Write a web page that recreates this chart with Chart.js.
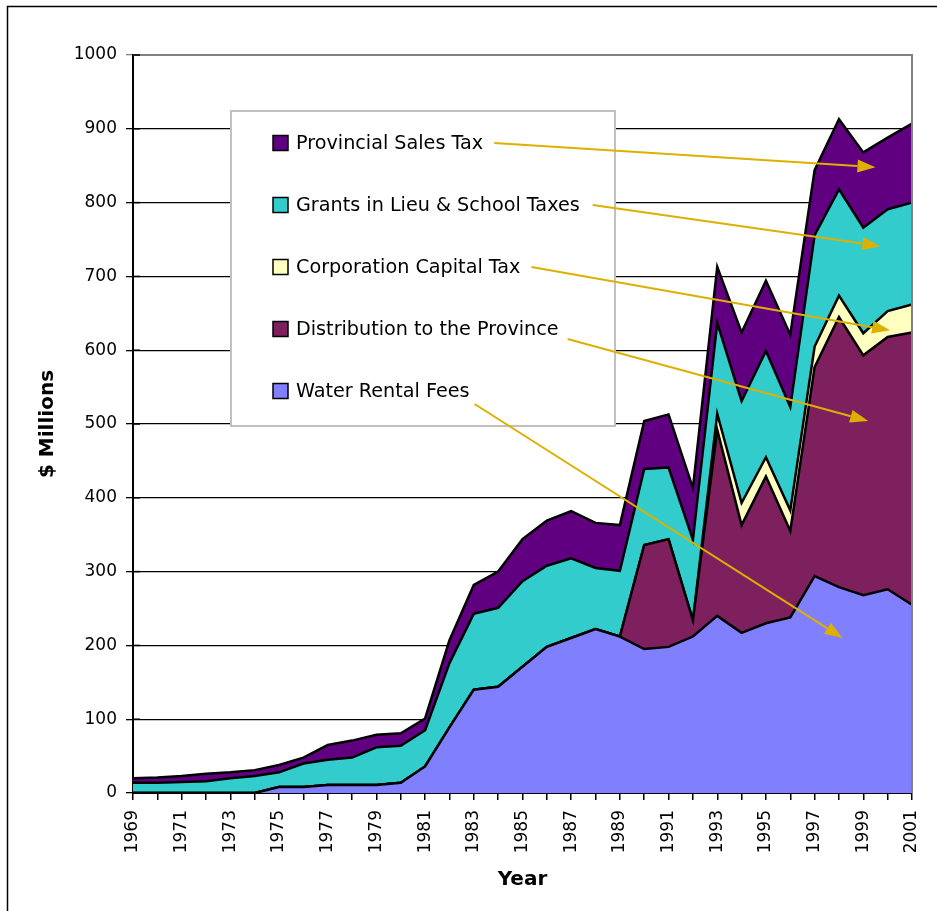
<!DOCTYPE html>
<html><head><meta charset="utf-8">
<script src="https://cdn.jsdelivr.net/npm/chart.js@4.4.0/dist/chart.umd.min.js"></script>
<style>html,body{margin:0;padding:0;background:#fff}canvas{display:block}</style>
</head><body>
<canvas id="c" width="937" height="911"></canvas>
<script>
// ---- DATA ----
const years = ['1969','1970','1971','1972','1973','1974','1975','1976','1977','1978','1979','1980',
  '1981','1982','1983','1984','1985','1986','1987','1988','1989','1990','1991','1992','1993',
  '1994','1995','1996','1997','1998','1999','2000','2001'];
const waterRental   = [0,0,0,0,0,0,8,8,11,11,11,14,36,89,140,144,171,198,210,222,212,195,198,212,240,217,230,238,294,279,268,276,255];
const distribution  = [0,0,0,0,0,0,0,0,0,0,0,0,0,0,0,0,0,0,0,0,0,141,146,22,252,146,199,117,283,366,325,342,369];
const corpCapital   = [0,0,0,0,0,0,0,0,0,0,0,0,0,0,0,0,0,0,0,0,0,0,0,0,22,30,26,28,28,29,30,35,38];
const grantsInLieu  = [14,14,15,16,20,23,20,32,34,37,51,50,49,87,103,107,116,110,108,83,89,103,97,109,123,138,144,140,151,144,143,138,138];
const salesTax      = [6,7,8,10,8,8,10,8,20,23,17,17,16,31,39,49,57,61,64,61,62,65,72,70,76,93,95,98,88,95,102,97,107];
const seriesNames   = ['Water Rental Fees','Distribution to the Province','Corporation Capital Tax','Grants in Lieu & School Taxes','Provincial Sales Tax'];
const yTicks        = [0,100,200,300,400,500,600,700,800,900,1000];
// arrow targets (category index, $ millions) for each series, same order as seriesNames
const arrowTargetX  = [29.15, 30.2, 31.1, 30.7, 30.5];
const arrowTargetY  = [210, 504, 627, 741, 848];

const colors = ['#8080FF','#7E1F5E','#FFFFC0','#33CCCC','#600080'];
const FONT = "'DejaVu Sans', Verdana, sans-serif";

const seriesData = [waterRental, distribution, corpCapital, grantsInLieu, salesTax];
const datasets = seriesData.map((d, i) => ({
  label: seriesNames[i],
  data: d,
  backgroundColor: colors[i],
  borderColor: '#000',
  borderWidth: 2.5,
  fill: i === 0 ? 'origin' : '-1',
  pointRadius: 0,
  tension: 0
}));

const overlay = {
  id: 'overlay',
  afterDraw(chart) {
    const ctx = chart.ctx, ca = chart.chartArea;
    const xs = chart.scales.x, ys = chart.scales.y;
    ctx.save();
    // outer frame (left & top visible)
    ctx.strokeStyle = '#000'; ctx.lineWidth = 1.5;
    ctx.beginPath(); ctx.moveTo(7.5, 911); ctx.lineTo(7.5, 6.5); ctx.lineTo(937, 6.5); ctx.stroke();
    // plot border top/right gray
    ctx.strokeStyle = '#808080'; ctx.lineWidth = 2;
    ctx.beginPath(); ctx.moveTo(ca.left, ca.top); ctx.lineTo(ca.right, ca.top); ctx.lineTo(ca.right, ca.bottom); ctx.stroke();
    // inner y ticks
    ctx.strokeStyle = '#000'; ctx.lineWidth = 1.5;
    yTicks.forEach(v => {
      const y = ys.getPixelForValue(v);
      ctx.beginPath(); ctx.moveTo(ca.left, y); ctx.lineTo(ca.left + 7, y); ctx.stroke();
    });
    // legend box
    const bx = ca.left + 98, by = ca.top + 56, bw = 384, bh = 315;
    ctx.fillStyle = '#fff'; ctx.fillRect(bx, by, bw, bh);
    ctx.strokeStyle = '#c0c0c0'; ctx.lineWidth = 2; ctx.strokeRect(bx, by, bw, bh);
    ctx.font = '19.2px ' + FONT; ctx.textBaseline = 'middle'; ctx.textAlign = 'left';
    const starts = [];
    const order = [4,3,2,1,0];
    const dy = [0,0,0,10,13];
    const gap = [11,13,11,9,5];
    order.forEach((si, row) => {
      const cy = by + 32 + row * 62;
      ctx.fillStyle = colors[si];
      ctx.fillRect(bx + 42, cy - 7.5, 15, 15);
      ctx.strokeStyle = '#000'; ctx.lineWidth = 1.5;
      ctx.strokeRect(bx + 42, cy - 7.5, 15, 15);
      ctx.fillStyle = '#000';
      ctx.fillText(seriesNames[si], bx + 65, cy + 1);
      const w = ctx.measureText(seriesNames[si]).width;
      starts[si] = [bx + 65 + w + gap[row], cy + dy[row]];
    });
    // arrows
    const ac = '#DDB000';
    ctx.strokeStyle = ac; ctx.fillStyle = ac; ctx.lineWidth = 2;
    for (let si = 0; si < 5; si++) {
      const [x0, y0] = starts[si];
      const x1 = xs.getPixelForValue(arrowTargetX[si]);
      const y1 = ys.getPixelForValue(arrowTargetY[si]);
      const ang = Math.atan2(y1 - y0, x1 - x0);
      const hl = 18, hw = 6.5;
      const bxp = x1 - hl * Math.cos(ang), byp = y1 - hl * Math.sin(ang);
      ctx.beginPath(); ctx.moveTo(x0, y0); ctx.lineTo(bxp, byp); ctx.stroke();
      ctx.beginPath();
      ctx.moveTo(x1, y1);
      ctx.lineTo(bxp + hw * Math.sin(ang), byp - hw * Math.cos(ang));
      ctx.lineTo(bxp - hw * Math.sin(ang), byp + hw * Math.cos(ang));
      ctx.closePath(); ctx.fill();
    }
    ctx.restore();
  }
};

new Chart(document.getElementById('c'), {
  type: 'line',
  data: { labels: years, datasets },
  plugins: [overlay],
  options: {
    responsive: false,
    animation: false,
    layout: { padding: { left: 0, right: 25, top: 55, bottom: 0 } },
    plugins: { legend: { display: false }, tooltip: { enabled: false } },
    scales: {
      x: {
        type: 'category',
        offset: false,
        grid: { display: true, drawOnChartArea: false, drawTicks: true, tickLength: 7, color: '#000', lineWidth: 1.5 },
        border: { display: true, color: '#000', width: 2 },
        ticks: {
          autoSkip: false, minRotation: 90, maxRotation: 90, padding: 10, color: '#000',
          font: { family: FONT, size: 17 },
          callback: (v, i) => (i % 2 === 0 ? years[i] : '')
        },
        title: { display: true, text: 'Year', color: '#000', font: { family: FONT, size: 20, weight: 'bold' }, padding: { top: 0, bottom: 19 } },
        afterFit: s => { s.height = 118; s.paddingLeft = 0; s.paddingRight = 0; }
      },
      y: {
        stacked: true,
        min: 0, max: 1000,
        afterBuildTicks: s => { s.ticks = yTicks.map(v => ({ value: v })); },
        grid: { color: c => (c.tick && c.tick.value === 1000 ? '#808080' : '#000'), lineWidth: 1.3, tickLength: 7, drawTicks: true },
        border: { display: true, color: '#000', width: 2 },
        ticks: { padding: 9, color: '#000', font: { family: FONT, size: 17 }, callback: v => String(v) },
        title: { display: true, text: '$ Millions', color: '#000', font: { family: FONT, size: 20, weight: 'bold' }, padding: { top: 36, bottom: 0 } },
        afterFit: s => { s.width = 133; s.paddingTop = 0; s.paddingBottom = 0; }
      }
    }
  }
});
</script>
</body></html>
